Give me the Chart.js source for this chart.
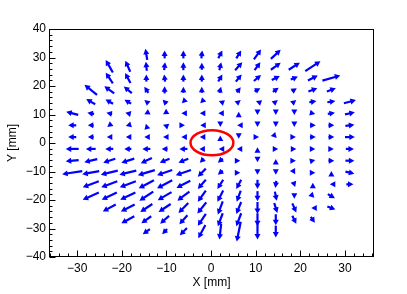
<!DOCTYPE html>
<html lang="en">
  <head>
    <meta charset="UTF-8" />
    <title>Vector field</title>
    <script src="https://cdn.jsdelivr.net/npm/chart.js"></script>
    <style>
      html, body { margin: 0; padding: 0; background: #fff; }
      #wrap { width: 407px; height: 294px; }
    </style>
  </head>
  <body>
    <div id="wrap"><canvas id="myChart" width="407" height="294"></canvas></div>

    <script>
      // grid of arrow centres [mm]
      const colsX = [-31.1, -26.95, -22.8, -18.65, -14.5, -10.4, -6.2, -2.07, 2.07, 6.2, 10.4, 14.5, 18.65, 22.8, 26.95, 31.1];
      const rowsY = [31.1, 26.95, 22.8, 18.65, 14.5, 10.4, 6.2, 2.07, -2.07, -6.2, -10.4, -14.5, -18.65, -22.8, -26.95, -31.1];
      // first filled column of every row
      const rowStart = [4, 2, 2, 1, 1, 0, 0, 0, 0, 0, 0, 1, 1, 2, 3, 4];

      // arrow components [mm], one list per row
      const fieldU = [
        [-0.4, 0, 0, 0.2, 0.9, 1.1, 1.6, 2.2],
        [-1.6, -1.1, -0.2, 0.2, 0, 0, 0.4, 1.6, 1.3, 2.2, 2.5, 3.4],
        [-1.6, -1.2, 0, -0.2, 0, 0, 0.9, 1.3, 1.6, 1.8, 1.6, 2.2, 4.0],
        [-2.8, -2.2, -1.8, -0.9, 0, 0, 0, 0.4, 0.9, 1.3, 1.3, 1.1, 2.0, 2.0],
        [-2.0, -1.7, -1.5, -0.9, -0.9, -0.7, -0.7, -0.7, 0.9, -0.7, 0.9, 0.9, 1.6, 1.8, 2.7],
        [-2.7, -1.5, -1.3, -1.1, -0.9, -0.7, -0.9, -0.9, -0.9, 0, 0, 0, 0, 1.1, 1.6, 2.2],
        [-1.8, -1.3, -0.9, -0.9, -0.2, -0.7, 0.7, -0.7, 0, -0.7, 0, 0, 0, 1.3, 1.3, 2.0],
        [-1.8, -1.3, -1.1, -0.9, -0.9, -0.7, -0.9, -0.9, 0, 0, 0.7, 0.4, 0.7, 1.3, 1.3, 2.2],
        [-2.9, -2.2, -1.8, -1.6, -1.8, -1.3, -1.8, -1.1, -0.7, -0.9, 0, 1.1, 0.9, 1.1, 1.1, 1.8],
        [-2.9, -2.9, -2.7, -2.9, -2.5, -2.2, -2.2, -0.9, -1.1, 0.7, 0, 0, 0.7, 1.1, 1.3, 2.0],
        [-4.5, -3.8, -3.8, -3.8, -3.8, -3.4, -3.4, -1.8, -1.1, 0.7, 0, 0, 0.4, 1.1, 0, 2.0],
        [-3.6, -3.6, -3.6, -3.4, -3.4, -3.1, -1.8, -1.3, -1.1, 0, -0.2, 0.4, 0, -0.7, 1.6],
        [-3.6, -3.4, -3.4, -3.1, -3.1, -2.7, -1.8, -1.3, -0.9, 0, 0.4, 0, 0.7, 1.6],
        [-2.9, -3.1, -2.7, -2.7, -2.2, -2.0, -1.1, -1.1, 0, 0.7, 0.9, -0.7, 1.8],
        [-2.9, -2.2, -2.0, -1.8, -1.8, -1.1, -1.1, 0, 0, 0.9, 0.9],
        [-1.6, -1.1, -1.6, -1.6, -0.4, -0.9, 0, 0],
      ];
      const fieldV = [
        [3.9, 2.8, 2.8, 2.8, 2.8, 2.8, 3.5, 3.2],
        [4.4, 3.9, 3.2, 2.8, 2.8, 2.5, 2.8, 2.8, 2.8, 2.5, 2.5, 3.5],
        [3.7, 3.5, 2.5, 2.5, 2.5, 2.5, 2.5, 2.5, 2.1, 1.4, 1.1, 1.8, 1.8],
        [3.5, 2.5, 2.3, 2.1, 2.5, 2.1, 2.1, 2.1, 1.8, 1.1, 1.4, 1.1, 1.1, 1.1],
        [1.8, 1.5, 1.4, 1.1, 1.4, -1.1, -1.1, 0.4, 1.1, 0.4, 1.1, 1.1, 0.4, 0.4, 1.1],
        [1.1, 0.4, 0.4, 0.4, -0.7, -0.7, 0, 0, 0, 1.1, -1.1, -1.1, -1.1, -0.4, 0.4, 0.7],
        [0, 0, -1.1, -0.4, 1.1, 0.4, 0, 0, -1.1, 0, -1.1, -1.1, -1.1, 0, 0, 0.4],
        [0, 0, 0, 0, 0, 0, 0, 0, 1.1, -1.1, 0, -0.7, 0, 0, 0, 0],
        [0, 0, 0, 0, 0, 0, 0, 0, 0, 0, 1.1, 0, 0, 0, 0, 0],
        [-0.4, -1.1, -1.4, -1.4, -1.8, -1.4, -1.4, -1.4, -1.4, 0, -1.1, 1.1, 0, 0.4, 0, 0],
        [-1.1, -1.1, -1.4, -1.4, -1.8, -1.8, -1.8, -2.8, -1.4, 0, -1.4, -1.4, -1.1, 0, 1.1, -0.7],
        [-2.1, -2.1, -2.1, -2.8, -2.8, -2.5, -3.2, -3.2, -3.2, -3.2, -2.5, -1.8, 1.1, 0, 0],
        [-2.5, -2.5, -2.5, -3.2, -2.8, -3.2, -3.9, -3.9, -3.9, -3.5, -3.2, -1.8, -1.1, -1.4],
        [-2.5, -2.5, -2.8, -2.8, -3.5, -3.9, -4.6, -4.2, -4.2, -3.5, -3.2, 0, -1.1],
        [-2.5, -2.5, -2.8, -3.2, -4.2, -4.6, -4.6, -4.6, -3.9, -2.8, -2.1],
        [-1.8, -1.8, -2.5, -4.6, -5.6, -7.0, -5.6, -4.2],
      ];

      const xTitle = "X [mm]";
      const yTitle = "Y [mm]";
      // marked region
      const ringCenter = [0.2, 0.1];
      const ringRadius = [4.8, 4.4];

      const FONT = "'Liberation Sans', Arial, sans-serif";
      const fmt = (v) => (v < 0 ? "\u2212" + Math.abs(v) : String(v));

      const points = [];
      rowsY.forEach((y, r) => {
        fieldU[r].forEach((u, k) => {
          points.push({ x: colsX[rowStart[r] + k], y: y, u: u, v: fieldV[r][k] });
        });
      });

      // arrows, centred on their grid point
      const arrowPlugin = {
        id: "arrows",
        afterDatasetsDraw(chart) {
          const { ctx, scales } = chart;
          const sx = scales.x, sy = scales.y;
          ctx.save();
          ctx.strokeStyle = "#0000ff";
          ctx.fillStyle = "#0000ff";
          ctx.lineWidth = 2.2;
          ctx.lineCap = "butt";
          for (const p of chart.data.datasets[0].data) {
            const x0 = sx.getPixelForValue(p.x - p.u / 2);
            const y0 = sy.getPixelForValue(p.y - p.v / 2);
            const x1 = sx.getPixelForValue(p.x + p.u / 2);
            const y1 = sy.getPixelForValue(p.y + p.v / 2);
            const dx = x1 - x0, dy = y1 - y0;
            const len = Math.hypot(dx, dy);
            if (len < 0.01) continue;
            const ux = dx / len, uy = dy / len;
            const h = 5.5, w = 3;
            const bx = x1 - ux * h, by = y1 - uy * h;
            if (len > h) {
              ctx.beginPath();
              ctx.moveTo(x0, y0);
              ctx.lineTo(bx + ux, by + uy);
              ctx.stroke();
            }
            ctx.beginPath();
            ctx.moveTo(x1, y1);
            ctx.lineTo(bx - uy * w, by + ux * w);
            ctx.lineTo(bx + uy * w, by - ux * w);
            ctx.closePath();
            ctx.fill();
          }
          ctx.restore();
        },
        afterDraw(chart) {
          const { ctx, scales, chartArea } = chart;
          const sx = scales.x, sy = scales.y;
          ctx.save();
          // red ring
          const cx = sx.getPixelForValue(ringCenter[0]);
          const cy = sy.getPixelForValue(ringCenter[1]);
          const rx = Math.abs(sx.getPixelForValue(ringCenter[0] + ringRadius[0]) - cx);
          const ry = Math.abs(sy.getPixelForValue(ringCenter[1] + ringRadius[1]) - cy);
          ctx.strokeStyle = "#ff0000";
          ctx.lineWidth = 2.5;
          ctx.beginPath();
          ctx.ellipse(cx, cy, rx, ry, 0, 0, Math.PI * 2);
          ctx.stroke();

          // frame
          const L = Math.round(chartArea.left) + 0.5, R = Math.round(chartArea.right) - 0.5;
          const T = Math.round(chartArea.top) + 0.5, B = Math.round(chartArea.bottom) - 0.5;
          ctx.strokeStyle = "#000";
          ctx.lineWidth = 1;
          ctx.strokeRect(L, T, R - L, B - T);

          // inward ticks, major every 10, minor every 2
          ctx.beginPath();
          for (let v = -36; v <= 36; v += 2) {
            const px = Math.round(sx.getPixelForValue(v)) + 0.5;
            if (px < L || px > R) continue;
            const len = v % 10 === 0 ? 6 : 3;
            ctx.moveTo(px, B);
            ctx.lineTo(px, B - len);
          }
          for (let v = -40; v <= 40; v += 2) {
            const py = Math.round(sy.getPixelForValue(v)) + 0.5;
            const len = v % 10 === 0 ? 6 : 3;
            ctx.moveTo(L, py);
            ctx.lineTo(L + len, py);
          }
          ctx.stroke();
          ctx.restore();
        },
      };

      const config = {
        type: "scatter",
        data: {
          datasets: [{ data: points, pointRadius: 0, pointHoverRadius: 0, showLine: false }],
        },
        options: {
          responsive: false,
          animation: false,
          events: [],
          layout: { padding: { top: 29, right: 33, left: 0, bottom: 0 } },
          plugins: { legend: { display: false }, tooltip: { enabled: false } },
          scales: {
            x: {
              type: "linear",
              min: -36.3,
              max: 36.5,
              grid: { display: false, drawTicks: false },
              border: { display: false },
              ticks: {
                stepSize: 10,
                includeBounds: false,
                autoSkip: false,
                maxRotation: 0,
                padding: 4,
                color: "#000",
                font: { family: FONT, size: 12 },
                callback: (v) => fmt(v),
              },
              title: {
                display: true,
                text: xTitle,
                color: "#000",
                font: { family: FONT, size: 12 },
                padding: { top: 0, bottom: 4 },
              },
              afterFit: (s) => { s.height = 37; },
            },
            y: {
              type: "linear",
              min: -40,
              max: 40,
              grid: { display: false, drawTicks: false },
              border: { display: false },
              ticks: {
                stepSize: 10,
                includeBounds: false,
                autoSkip: false,
                padding: 3,
                color: "#000",
                font: { family: FONT, size: 12 },
                callback: (v) => fmt(v),
              },
              title: {
                display: true,
                text: yTitle,
                color: "#000",
                font: { family: FONT, size: 12 },
                padding: { top: 5, bottom: 0 },
              },
              afterFit: (s) => { s.width = 49; },
            },
          },
        },
        plugins: [arrowPlugin],
      };

      const ctx = document.getElementById("myChart");
      new Chart(ctx, config);
    </script>
  </body>
</html>
